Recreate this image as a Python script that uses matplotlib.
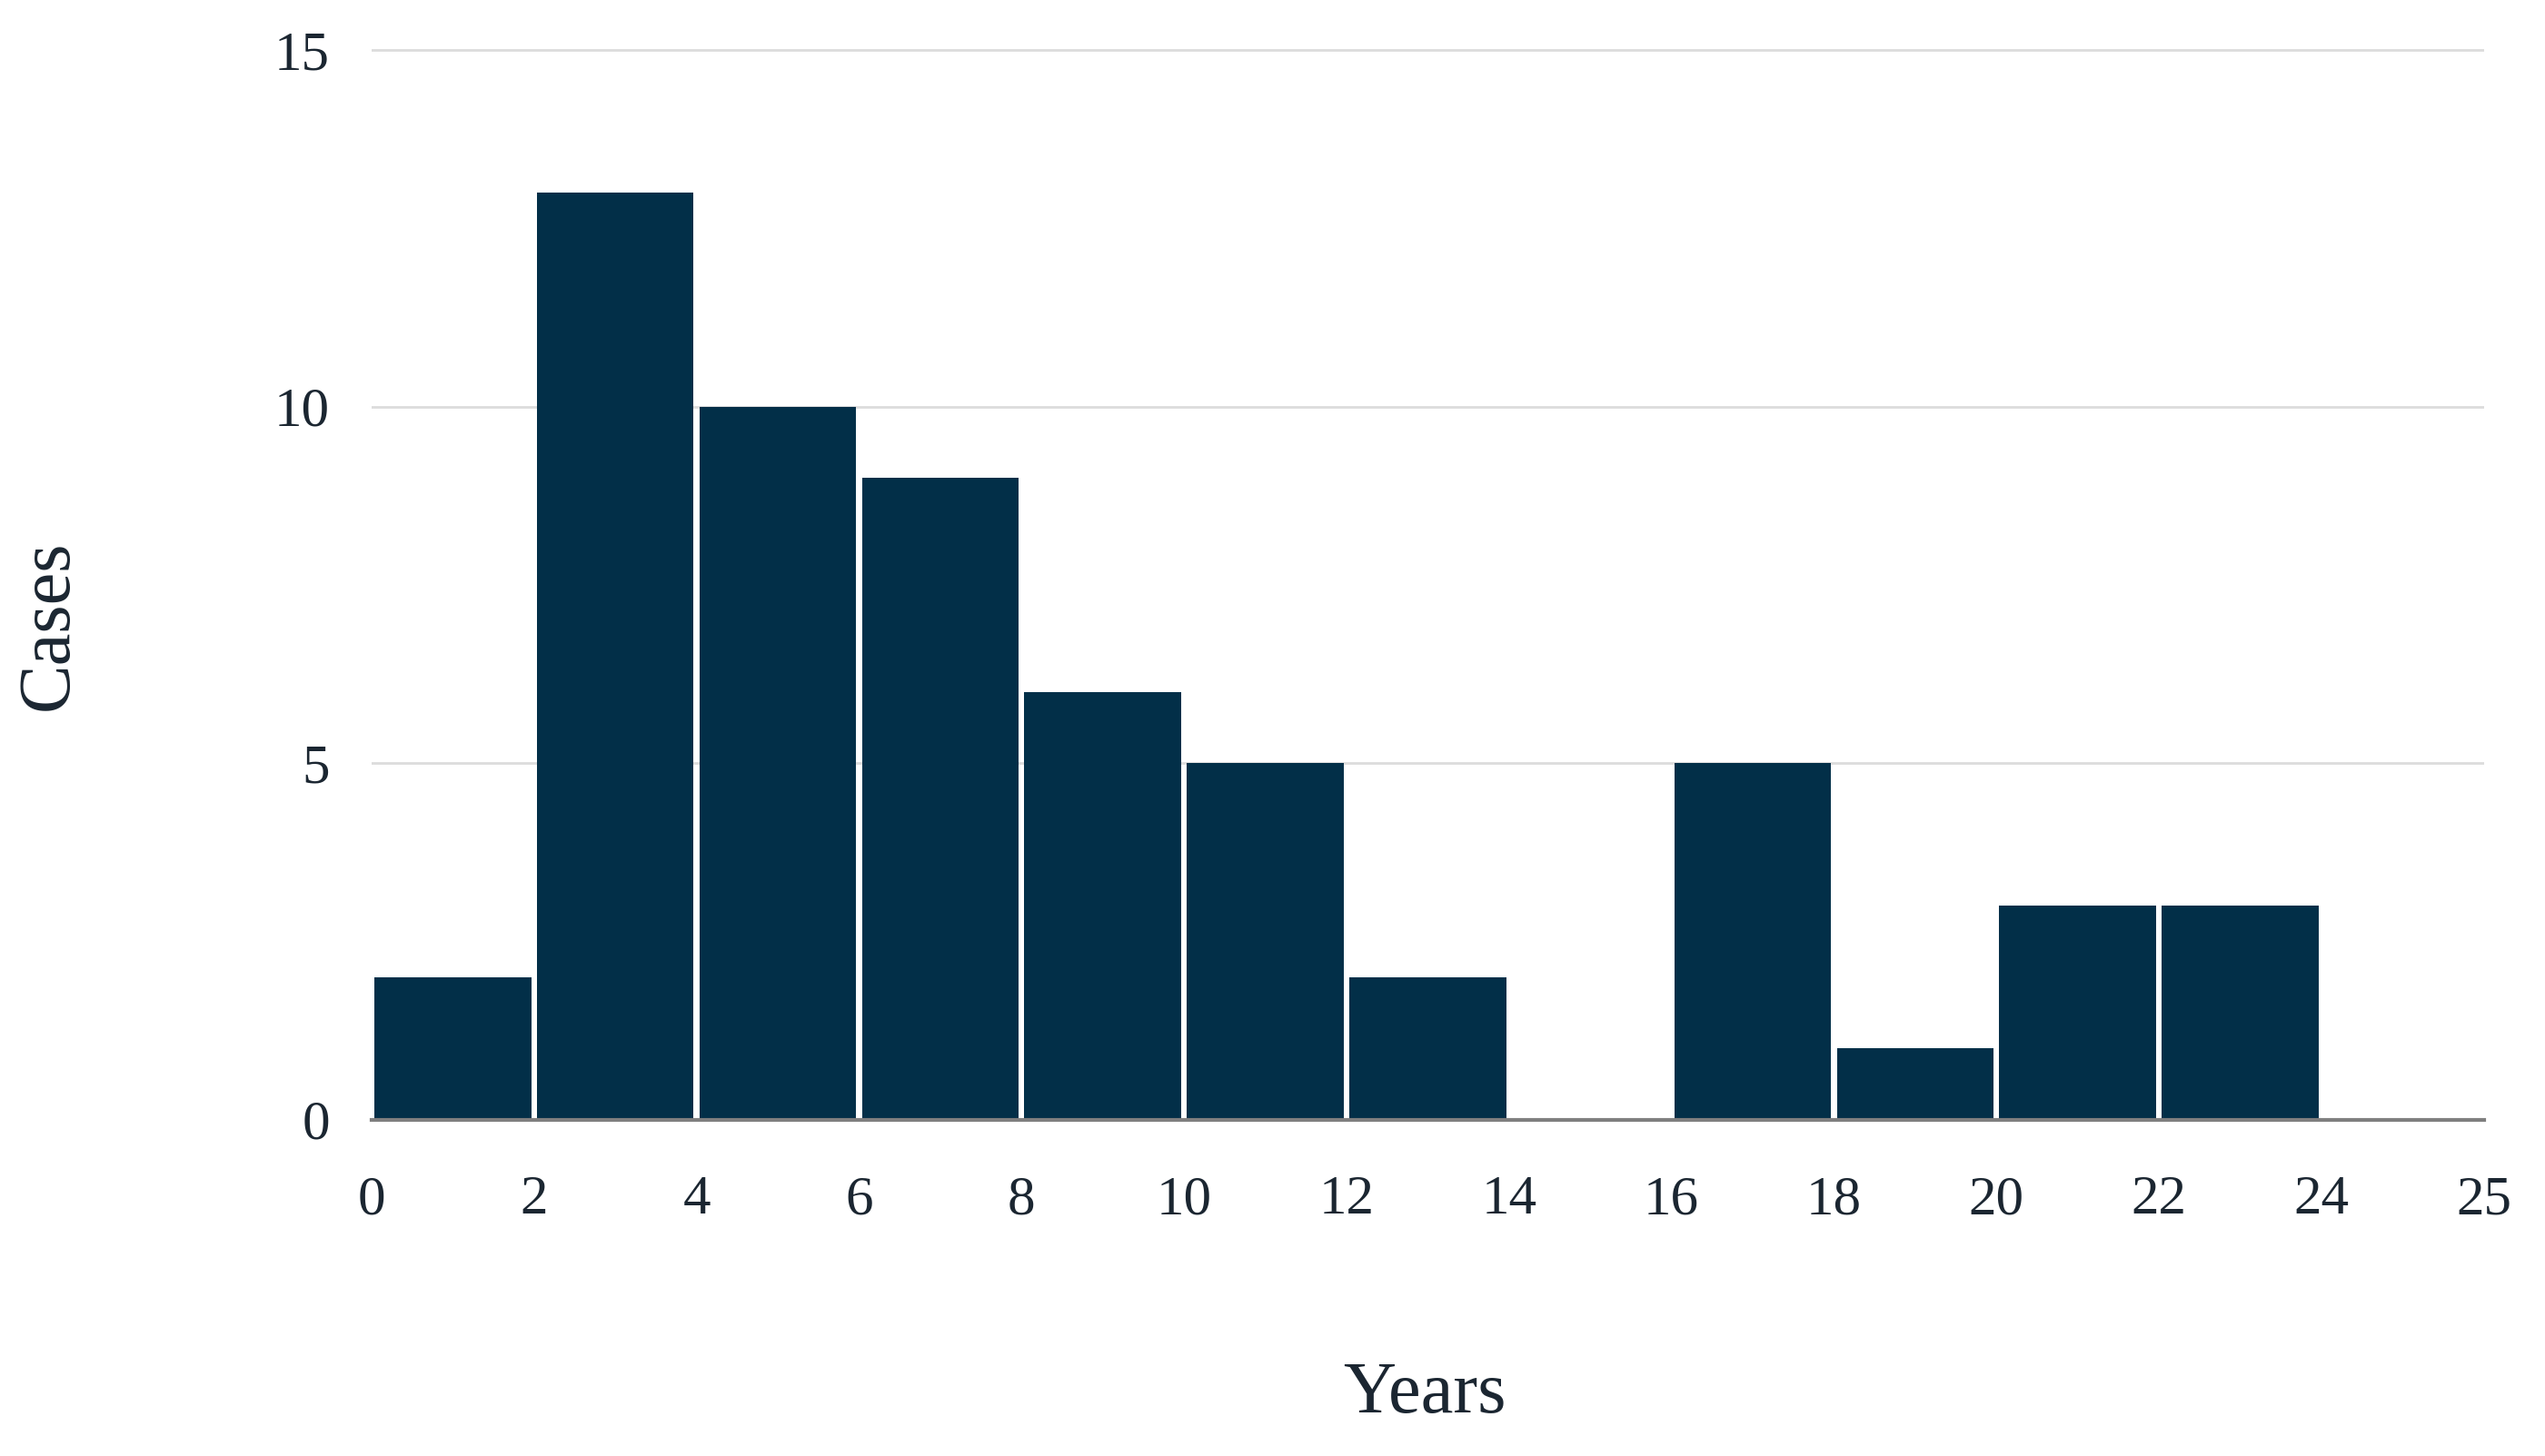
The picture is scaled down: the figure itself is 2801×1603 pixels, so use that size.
import numpy as np
import matplotlib.pyplot as plt

# histogram bins (years) and counts
tick_labels = ['0', '2', '4', '6', '8', '10', '12', '14', '16', '18', '20', '22', '24', '25']
cases = [2, 13, 10, 9, 6, 5, 2, 0, 5, 1, 3, 3, 0]

bar_color = '#022f48'
text_color = '#1b2631'

plt.rcParams['font.family'] = ['Liberation Serif', 'DejaVu Serif']

fig = plt.figure(figsize=(28.01, 16.03), dpi=100)
ax = fig.add_axes([0.146, 0.231, 0.830, 0.737])

x = np.arange(len(cases))
ax.bar(x + 0.5, cases, width=0.965, color=bar_color, zorder=3)

ax.set_xlim(0, len(cases))
ax.set_ylim(0, 15.05)
ax.set_xticks(np.arange(len(tick_labels)))
ax.set_xticklabels(tick_labels)
ax.set_yticks([0, 5, 10, 15])
ax.tick_params(axis='both', length=0, labelsize=44, colors=text_color)
ax.tick_params(axis='x', pad=44)
ax.tick_params(axis='y', pad=33)

ax.grid(axis='y', color='#dcdcdc', lw=2, zorder=0)
for s in ['top', 'right', 'left']:
    ax.spines[s].set_visible(False)
ax.spines['bottom'].set_color('#7f7f7f')
ax.spines['bottom'].set_linewidth(3)
ax.spines['bottom'].set_zorder(4)

fig.text(0.5598, 1 - 1536 / 1603, 'Years', fontsize=58, color=text_color, ha='center', va='center')
fig.text(54 / 2801, 1 - 688 / 1603, 'Cases', fontsize=58, color=text_color, ha='center', va='center', rotation=90)

fig.savefig('out.png', dpi=100)
